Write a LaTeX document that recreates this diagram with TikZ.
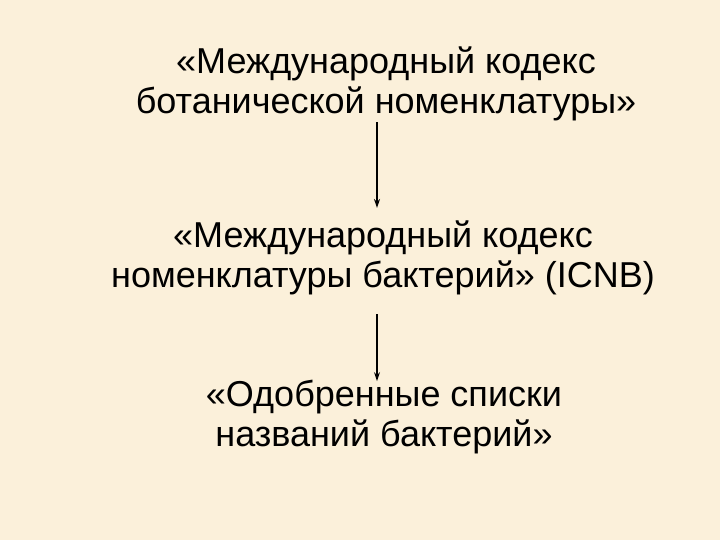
\documentclass[tikz,border=0pt]{standalone}
\usepackage{fontspec}
\setmainfont{Liberation Sans}
\usetikzlibrary{arrows.meta}
\definecolor{paper}{HTML}{FBF0DA}
\tikzset{
    kodeks/.style={
           align=center,
           inner sep=0pt,
           font=\fontsize{36}{39.5}\selectfont},
    strelka/.style={
           -{Stealth[length=9pt,width=6pt]},
           black, line width=1.3pt}
    }
\begin{document}
\begin{tikzpicture}[x=1pt,y=1pt]
      \fill[paper] (0,0) rectangle (720,-540);
      \node[kodeks] (0) at (386,-84) {«Международный кодекс\\ботанической номенклатуры»};
      \node[kodeks] (1) at (383,-258) {«Международный кодекс\\номенклатуры бактерий» (ICNB)};
      \node[kodeks] (2) at (384,-417) {«Одобренные списки\\названий бактерий»};
      \draw[strelka] ([yshift=-1pt]0.south -| 377,0) -- ([yshift=13pt]1.north -| 377,0);
      \draw[strelka] ([yshift=-19pt]1.south -| 377,0) -- ([yshift=-1pt]2.north -| 377,0);
\end{tikzpicture}
\end{document}
